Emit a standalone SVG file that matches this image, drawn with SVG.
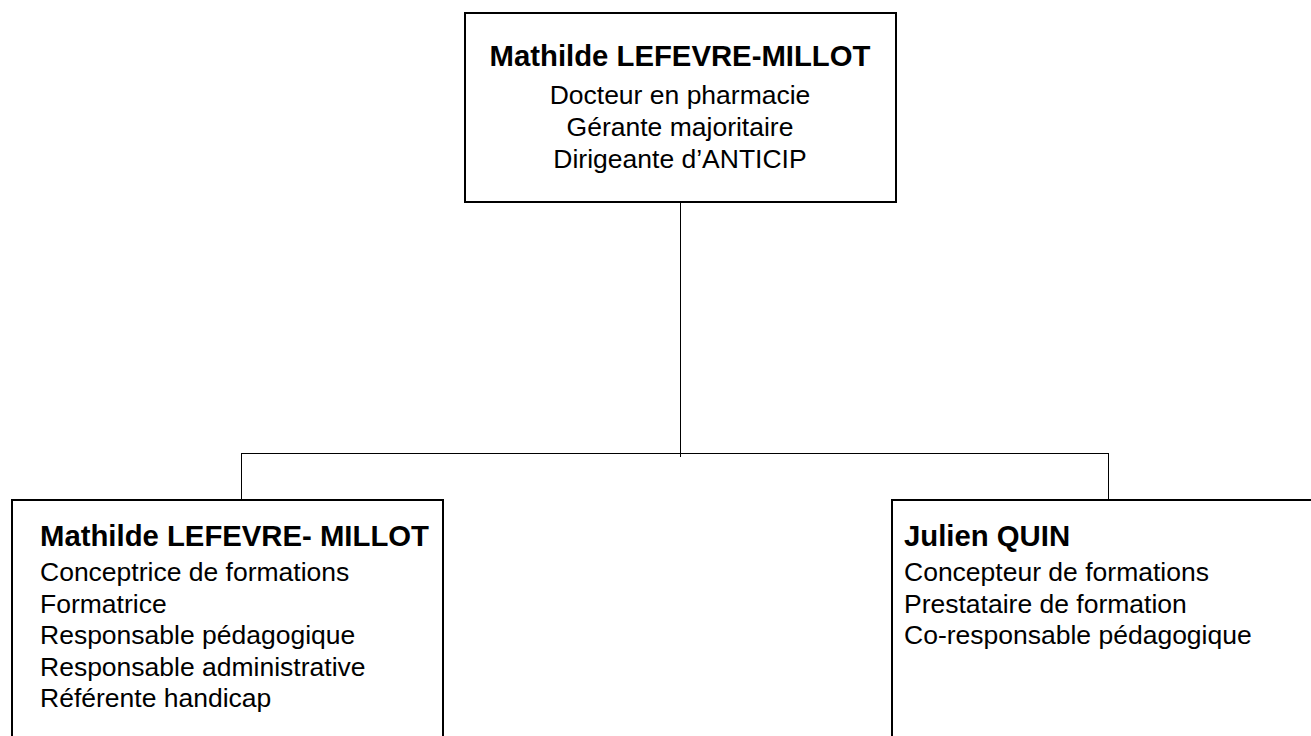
<svg xmlns="http://www.w3.org/2000/svg" width="1311" height="736" viewBox="0 0 1311 736">
<style>
.box{fill:#fff;stroke:#000;stroke-width:2}
.conn{fill:none;stroke:#000;stroke-width:1}
.t{font-family:"Liberation Sans",Arial,sans-serif;font-size:26.5px;fill:#000}
.b{font-weight:bold;font-size:29.3px}
</style>
<rect width="1311" height="736" fill="#fff"/>
<g id="connectors">
<line class="conn" x1="680.5" y1="202" x2="680.5" y2="457"/>
<line class="conn" x1="241" y1="453.5" x2="1108" y2="453.5"/>
<line class="conn" x1="241.5" y1="453" x2="241.5" y2="500"/>
<line class="conn" x1="1108.5" y1="453" x2="1108.5" y2="500"/>
</g>
<g id="node-top">
<rect class="box" x="465" y="13" width="431" height="189"/>
<text class="t b" x="680" y="66" text-anchor="middle">Mathilde LEFEVRE-MILLOT</text>
<text class="t" x="680" y="104" text-anchor="middle">Docteur en pharmacie</text>
<text class="t" x="680" y="136" text-anchor="middle">Gérante majoritaire</text>
<text class="t" x="680" y="168" text-anchor="middle">Dirigeante d’ANTICIP</text>
</g>
<g id="node-left">
<rect class="box" x="12" y="500" width="431" height="250"/>
<text class="t b" x="40" y="546">Mathilde LEFEVRE- MILLOT</text>
<text class="t" x="40" y="581">Conceptrice de formations</text>
<text class="t" x="40" y="612.5">Formatrice</text>
<text class="t" x="40" y="644">Responsable pédagogique</text>
<text class="t" x="40" y="675.5">Responsable administrative</text>
<text class="t" x="40" y="707">Référente handicap</text>
</g>
<g id="node-right">
<rect class="box" x="892" y="500" width="440" height="250"/>
<text class="t b" x="904" y="546">Julien QUIN</text>
<text class="t" x="904" y="581">Concepteur de formations</text>
<text class="t" x="904" y="612.5">Prestataire de formation</text>
<text class="t" x="904" y="644">Co-responsable pédagogique</text>
</g>
</svg>
